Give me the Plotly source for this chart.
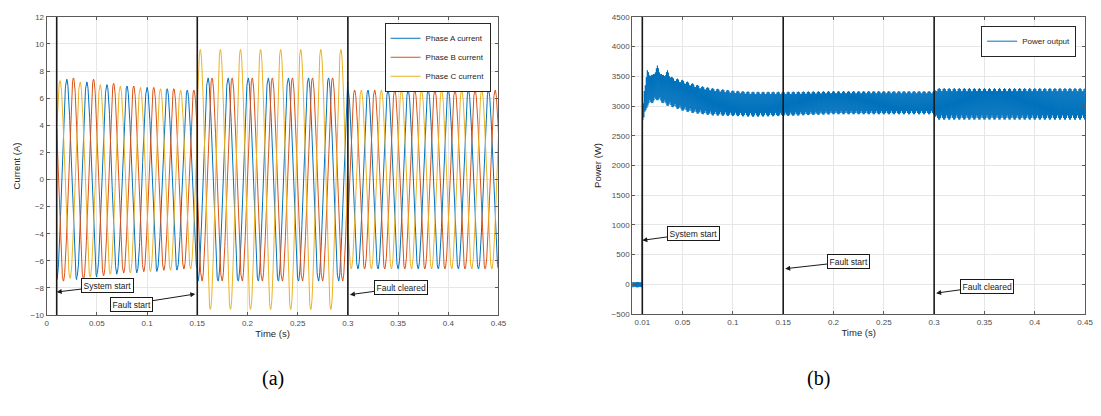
import numpy as np
import plotly.graph_objects as go

# ---------------- data ----------------
F_HZ = 50.0
EVENT_TIMES = [0.01, 0.15, 0.30]            # system start, fault start, fault cleared
EVENT_LABELS = ["System start", "Fault start", "Fault cleared"]
T_END = 0.45

# per-cycle current peak amplitudes (A)
amp_pre_A = [7.4, 7.2, 7.0, 6.9, 6.8, 6.7, 6.6]
amp_pre_B = [7.5, 7.4, 7.1, 6.9, 6.8, 6.7, 6.6]
amp_pre_C = [7.3, 7.2, 7.0, 6.9, 6.8, 6.7, 6.6]
amp_fault_A = [7.5, 7.5, 7.5, 7.5, 7.5, 7.5, 7.5, 7.5]
amp_fault_B = [7.5, 7.5, 7.5, 7.5, 7.5, 7.5, 7.5, 7.5]
amp_fault_C = [9.6, 9.6, 9.6, 9.6, 9.6, 9.6, 9.6, 9.6]
amp_post_A = [6.6, 6.6, 6.6, 6.6, 6.6, 6.6, 6.6, 6.6]
amp_post_B = [6.6, 6.6, 6.6, 6.6, 6.6, 6.6, 6.6, 6.6]
amp_post_C = [6.6, 6.6, 6.6, 6.6, 6.6, 6.6, 6.6, 6.6]
# time of a positive peak for each phase in each segment (s)
peak_pre = {"A": 0.0, "B": 0.00667, "C": 0.01333}
peak_fault = {"A": 0.1607, "B": 0.1647, "C": 0.153}
peak_post = {"A": 0.0, "B": 0.00667, "C": 0.01333}

# power band envelope (W)
p_t = [0.000, 0.0099, 0.010, 0.012, 0.015, 0.020, 0.025, 0.030, 0.035, 0.040, 0.050, 0.060,
       0.070, 0.080, 0.100, 0.120, 0.150, 0.200, 0.250, 0.300, 0.302, 0.350, 0.400, 0.450]
p_upper = [40, 40, 2800, 3300, 3600, 3520, 3680, 3520, 3600, 3480, 3440, 3380,
           3330, 3300, 3260, 3240, 3240, 3250, 3250, 3250, 3300, 3300, 3300, 3300]
p_lower = [-50, -50, 2750, 2800, 3000, 3050, 3100, 3050, 3000, 2980, 2920, 2880,
           2860, 2840, 2830, 2820, 2830, 2860, 2860, 2860, 2770, 2770, 2770, 2770]

x_ticks_a = [0, 0.05, 0.1, 0.15, 0.2, 0.25, 0.3, 0.35, 0.4, 0.45]
x_ticks_b = [0.01, 0.05, 0.1, 0.15, 0.2, 0.25, 0.3, 0.35, 0.4, 0.45]
y_ticks_a = list(range(-10, 13, 2))
y_ticks_b = list(range(-500, 4501, 500))

COL_A, COL_B, COL_C = "#0072BD", "#D95319", "#EDB120"

# ---------------- build waveforms ----------------
dt = 0.0002
t = np.arange(0.0, T_END + dt / 2, dt)
w = 2 * np.pi * F_HZ


def phase_current(ph, amps_pre, amps_fault, amps_post):
    y = np.zeros_like(t)
    segs = [(EVENT_TIMES[0], EVENT_TIMES[1], amps_pre, peak_pre[ph]),
            (EVENT_TIMES[1], EVENT_TIMES[2], amps_fault, peak_fault[ph]),
            (EVENT_TIMES[2], T_END + 1, amps_post, peak_post[ph])]
    for s, e, amps, tp in segs:
        m = (t >= s) & (t < e)
        idx = np.minimum(((t[m] - s) / (1 / F_HZ)).astype(int), len(amps) - 1)
        y[m] = np.array(amps)[idx] * np.cos(w * (t[m] - tp))
    return y


iA = phase_current("A", amp_pre_A, amp_fault_A, amp_post_A)
iB = phase_current("B", amp_pre_B, amp_fault_B, amp_post_B)
iC = phase_current("C", amp_pre_C, amp_fault_C, amp_post_C)

dtp = 0.0005
tp_ = np.arange(0.0, T_END + dtp / 2, dtp)
up = np.interp(tp_, p_t, p_upper)
lo = np.interp(tp_, p_t, p_lower)
mid = (up + lo) / 2
half = (up - lo) / 2
alt = np.where(np.arange(len(tp_)) % 2 == 0, 1.0, -1.0)
mod = 0.72 + 0.28 * np.abs(np.cos(2 * np.pi * 100 * tp_))
power = mid + half * alt * mod

# ---------------- figure ----------------
# the page body has an 8px margin: the figure sits at (8, 8) in the window
OFF = 8
W, H = 1101 - OFF, 416 - 2 * OFF


def px(X):
    return (X - OFF) / W


def py(Y):
    return 1 - (Y - OFF) / H


fig = go.Figure()

fig.add_trace(go.Scatter(x=t, y=iA, mode="lines", name="Phase A current",
                         line=dict(color=COL_A, width=1), xaxis="x", yaxis="y", legend="legend"))
fig.add_trace(go.Scatter(x=t, y=iB, mode="lines", name="Phase B current",
                         line=dict(color=COL_B, width=1), xaxis="x", yaxis="y", legend="legend"))
fig.add_trace(go.Scatter(x=t, y=iC, mode="lines", name="Phase C current",
                         line=dict(color=COL_C, width=1), xaxis="x", yaxis="y", legend="legend"))
fig.add_trace(go.Scatter(x=tp_, y=power, mode="lines", name="Power output",
                         line=dict(color=COL_A, width=1), xaxis="x2", yaxis="y2", legend="legend2"))

FONT = "Liberation Sans, Arial, sans-serif"
TICKF = dict(family=FONT, size=8, color="#4d4d4d")
TITLEF = dict(family=FONT, size=9.5, color="#262626")

axis_common = dict(showline=True, linecolor="#5a5a5a", linewidth=1, mirror="ticks",
                   ticks="inside", ticklen=3, tickcolor="#5a5a5a",
                   showgrid=True, gridcolor="#e6e6e6", gridwidth=1, zeroline=False,
                   tickfont=TICKF)

fig.update_layout(
    width=W, height=H,
    margin=dict(l=0, r=0, t=0, b=0),
    paper_bgcolor="white", plot_bgcolor="white",
    xaxis=dict(domain=[px(45), px(501)], range=[0, 0.45], tickvals=x_ticks_a,
               ticktext=[f"{v:g}" for v in x_ticks_a], anchor="y",
               title=dict(text="Time (s)", font=TITLEF, standoff=3), **axis_common),
    yaxis=dict(domain=[py(318), py(13)], range=[-10, 12], tickvals=y_ticks_a, anchor="x",
               title=dict(text="Current (A)", font=TITLEF, standoff=8), **axis_common),
    xaxis2=dict(domain=[px(636), px(1093)], range=[0, 0.45], tickvals=x_ticks_b,
                ticktext=[f"{v:g}" for v in x_ticks_b], anchor="y2",
                title=dict(text="Time (s)", font=TITLEF, standoff=3), **axis_common),
    yaxis2=dict(domain=[py(317), py(13)], range=[-500, 4500], tickvals=y_ticks_b, anchor="x2",
                title=dict(text="Power (W)", font=TITLEF, standoff=8), **axis_common),
    legend=dict(x=px(493), y=py(19), xanchor="right", yanchor="top",
                bgcolor="white", bordercolor="#262626", borderwidth=1,
                font=dict(family=FONT, size=8, color="#262626"),
                tracegroupgap=0, itemwidth=30),
    legend2=dict(x=px(1084), y=py(22), xanchor="right", yanchor="top",
                 bgcolor="white", bordercolor="#262626", borderwidth=1,
                 font=dict(family=FONT, size=8, color="#262626"),
                 tracegroupgap=0, itemwidth=30),
    showlegend=True,
)

# vertical event lines
for xa, ya in [("x", "y"), ("x2", "y2")]:
    for te in EVENT_TIMES:
        fig.add_shape(type="line", x0=te, x1=te, y0=0, y1=1, xref=xa, yref=f"{ya} domain",
                      line=dict(color="#1a1a1a", width=1.6), layer="above")

# annotations: (x head, y head, ax, ay)
ann_a = [(EVENT_TIMES[0], -8.3, 51, -6), (0.148, -8.45, -64, 10), (0.302, -8.5, 51, -7)]
ann_b = [(EVENT_TIMES[0], 740, 51, -7), (0.152, 263, 63, -7), (0.302, -148, 51, -7)]
for (xa, ya, anns) in [("x", "y", ann_a), ("x2", "y2", ann_b)]:
    for lab, (hx, hy, ax, ay) in zip(EVENT_LABELS, anns):
        fig.add_annotation(x=hx, y=hy, xref=xa, yref=ya, ax=ax, ay=ay,
                           text=lab, showarrow=True, arrowhead=2, arrowsize=1,
                           arrowwidth=1, arrowcolor="#1a1a1a",
                           font=dict(family=FONT, size=8.5, color="#1a1a1a"),
                           bgcolor="white", bordercolor="#1a1a1a", borderwidth=1, borderpad=1.5)

# captions
for cx, cap in [(260, "(a)"), (838, "(b)")]:
    fig.add_annotation(x=px(cx), y=py(397), xref="paper", yref="paper",
                       text=cap, showarrow=False,
                       font=dict(family="Liberation Serif, Times New Roman, serif", size=20, color="black"))

fig.write_html("out.html")
